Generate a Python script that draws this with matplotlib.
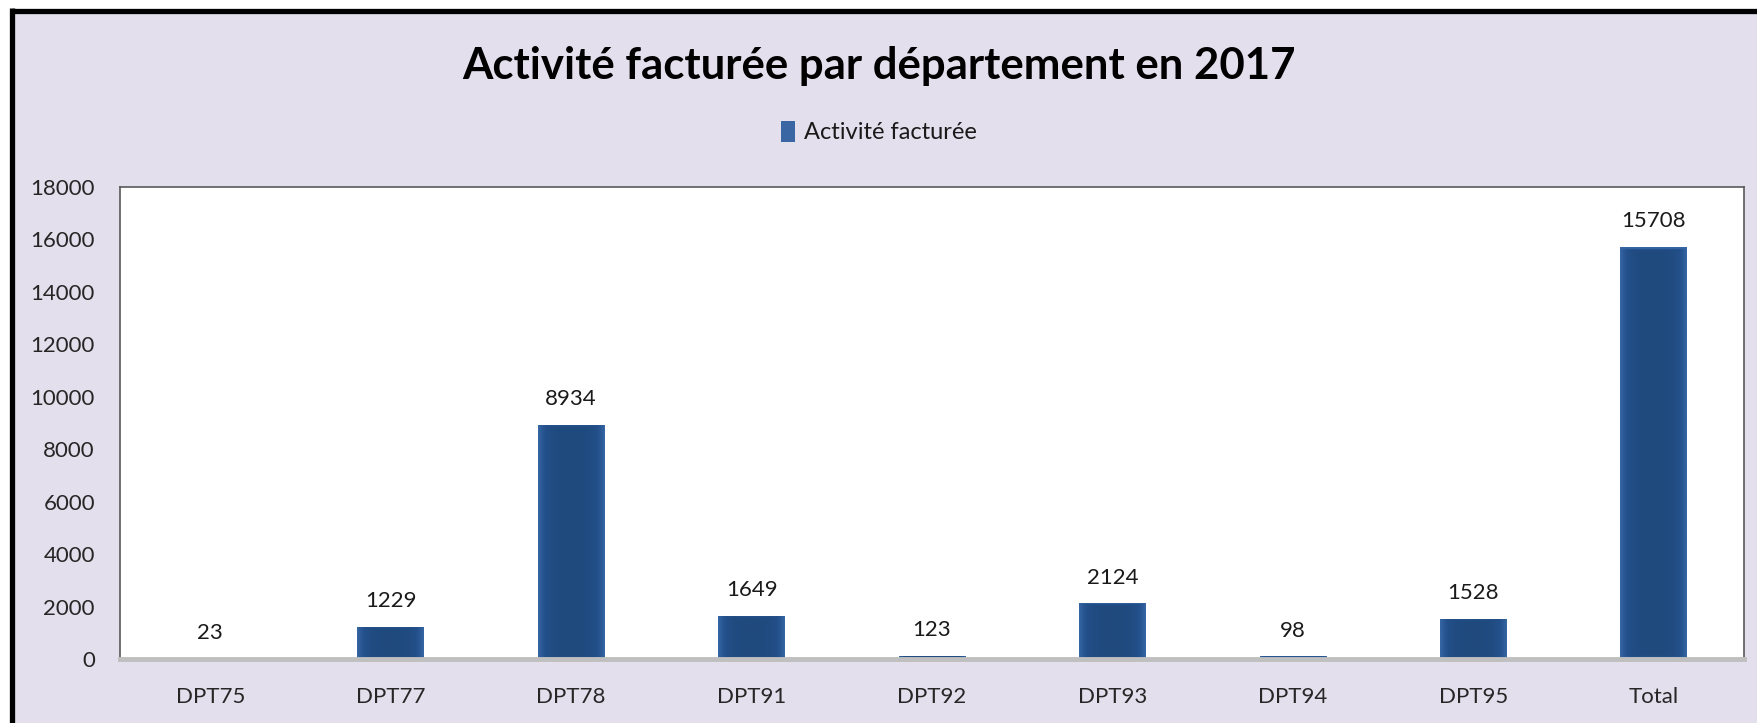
import numpy as np
import matplotlib
matplotlib.use("Agg")
import matplotlib.pyplot as plt
from matplotlib.colors import LinearSegmentedColormap
from matplotlib.patches import Rectangle
from matplotlib.lines import Line2D

# data
departements = ['DPT75', 'DPT77', 'DPT78', 'DPT91', 'DPT92', 'DPT93', 'DPT94', 'DPT95', 'Total']
activite = [23, 1229, 8934, 1649, 123, 2124, 98, 1528, 15708]
y_ticks = [0, 2000, 4000, 6000, 8000, 10000, 12000, 14000, 16000, 18000]

title = "Activité facturée par département en 2017"
serie = "Activité facturée"

plt.rcParams['font.family'] = ['Lato', 'DejaVu Sans']
bg = "#E4DFEC"
bar_col = "#24508A"
font_size = 16

fig = plt.figure(figsize=(17.58, 7.23), dpi=100)
fig.patch.set_facecolor("white")

# lavender chart area + thick black border on top and left
fig.add_artist(Rectangle((12 / 1758, 0), 1, 1 - 10 / 723, transform=fig.transFigure,
                         facecolor=bg, edgecolor="none", zorder=0))
fig.add_artist(Line2D([12.5 / 1758, 1], [1 - 10.5 / 723, 1 - 10.5 / 723], transform=fig.transFigure,
                      color="black", lw=3.8, solid_capstyle="butt"))
fig.add_artist(Line2D([12.5 / 1758, 12.5 / 1758], [0, 1 - 8 / 723], transform=fig.transFigure,
                      color="black", lw=3.8, solid_capstyle="butt"))

ax = fig.add_axes([120 / 1758, 64 / 723, (1744 - 120) / 1758, (659 - 187) / 723])
ax.set_facecolor("white")

x = np.arange(len(departements))
bars = ax.bar(x, activite, width=0.37, color=bar_col, zorder=1, label=serie)

# soft gradient inside bars (lighter edges, darker middle)
cmap = LinearSegmentedColormap.from_list("g", ["#1F4A7E", "#23508A", "#3565A3"])
gx = np.linspace(-1, 1, 60)
gy = np.linspace(-1, 1, 200)
GX, GY = np.meshgrid(gx, gy)
for b in bars:
    h = b.get_height()
    if h <= 0:
        continue
    dy = np.clip(1 - (1 - np.abs(GY)) * h / 400, 0, 1)
    d = np.maximum(np.abs(GX) ** 3, dy ** 3)
    im = ax.imshow(d, extent=[b.get_x(), b.get_x() + b.get_width(), 0, h],
                   cmap=cmap, aspect="auto", zorder=1.1, origin="lower")
    im.set_clip_path(b)

for i, v in enumerate(activite):
    ax.text(i, v + 600, str(v), ha="center", va="bottom", fontsize=font_size, color="#1a1a1a")

ax.set_xlim(-0.5, len(departements) - 0.5)
ax.set_ylim(0, 18000)
ax.set_yticks(y_ticks)
ax.set_xticks(x)
ax.set_xticklabels(departements)
ax.tick_params(axis="both", length=0, labelsize=font_size, colors="#262626")
ax.tick_params(axis="x", pad=20)
ax.tick_params(axis="y", pad=18)

for s in ["top", "right", "left"]:
    ax.spines[s].set_color("#595959")
    ax.spines[s].set_linewidth(1.2)
ax.spines["bottom"].set_color("#BFBFBF")
ax.spines["bottom"].set_linewidth(3.5)
for s in ax.spines.values():
    s.set_zorder(3)

fig.text(0.5, 1 - 66 / 723, title, ha="center", va="center", fontsize=31.5,
         fontweight="bold", color="black")

leg = ax.legend(loc="center", bbox_to_anchor=(0.5, (723 - 132) / 723), bbox_transform=fig.transFigure,
                frameon=False, fontsize=17, handlelength=0.6, handleheight=1.0, handletextpad=0.4)
for t in leg.get_texts():
    t.set_color("#1a1a1a")
leg.get_patches()[0].set_facecolor("#3A67A4")

fig.savefig("out.png", dpi=100, facecolor=fig.get_facecolor())
